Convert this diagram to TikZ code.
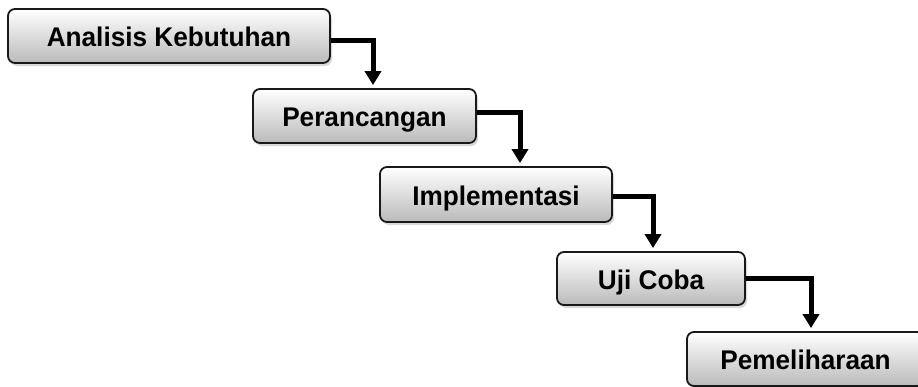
\documentclass[tikz,border=0pt]{standalone}
\usepackage{fontspec}
\setmainfont{Liberation Sans}[FakeStretch=0.97]
\usepackage{tikz}
\usetikzlibrary{arrows.meta,shadows}

\begin{document}
\begin{tikzpicture}[x=1pt,y=-1pt,
  every node/.style={rounded corners=7pt,draw=black!90,line width=1.8pt,
    top color=white,bottom color=black!27,
    drop shadow={shadow xshift=2pt,shadow yshift=-3pt,opacity=0.3},
    font=\fontsize{27}{30}\selectfont\bfseries,inner sep=0pt,
    text height=21pt,text depth=0pt},
  flow/.style={line width=5pt,-{Triangle[width=16pt,length=14pt]},shorten >=3pt}]
  \useasboundingbox (0,0) rectangle (918,386);
  \node[minimum width=322pt,minimum height=54pt] (n1) at (169,36) {Analisis Kebutuhan};
  \node[minimum width=223pt,minimum height=54pt] (n2) at (364.5,116) {Perancangan};
  \node[minimum width=232pt,minimum height=55pt] (n3) at (496,194.5) {Implementasi};
  \node[minimum width=188pt,minimum height=53pt] (n4) at (651,278.5) {Uji Coba};
  \node[minimum width=237pt,minimum height=54pt] (n5) at (805.5,359) {Pemeliharaan};

  \foreach \from/\to/\dy/\dx in {n1/n2/-4.5/8.5,n2/n3/3.5/24,n3/n4/-2/2,n4/n5/0/5.5}
    \draw[flow] ([yshift=\dy pt]\from.east) -| ([xshift=\dx pt]\to.north);

\end{tikzpicture}
\end{document}
